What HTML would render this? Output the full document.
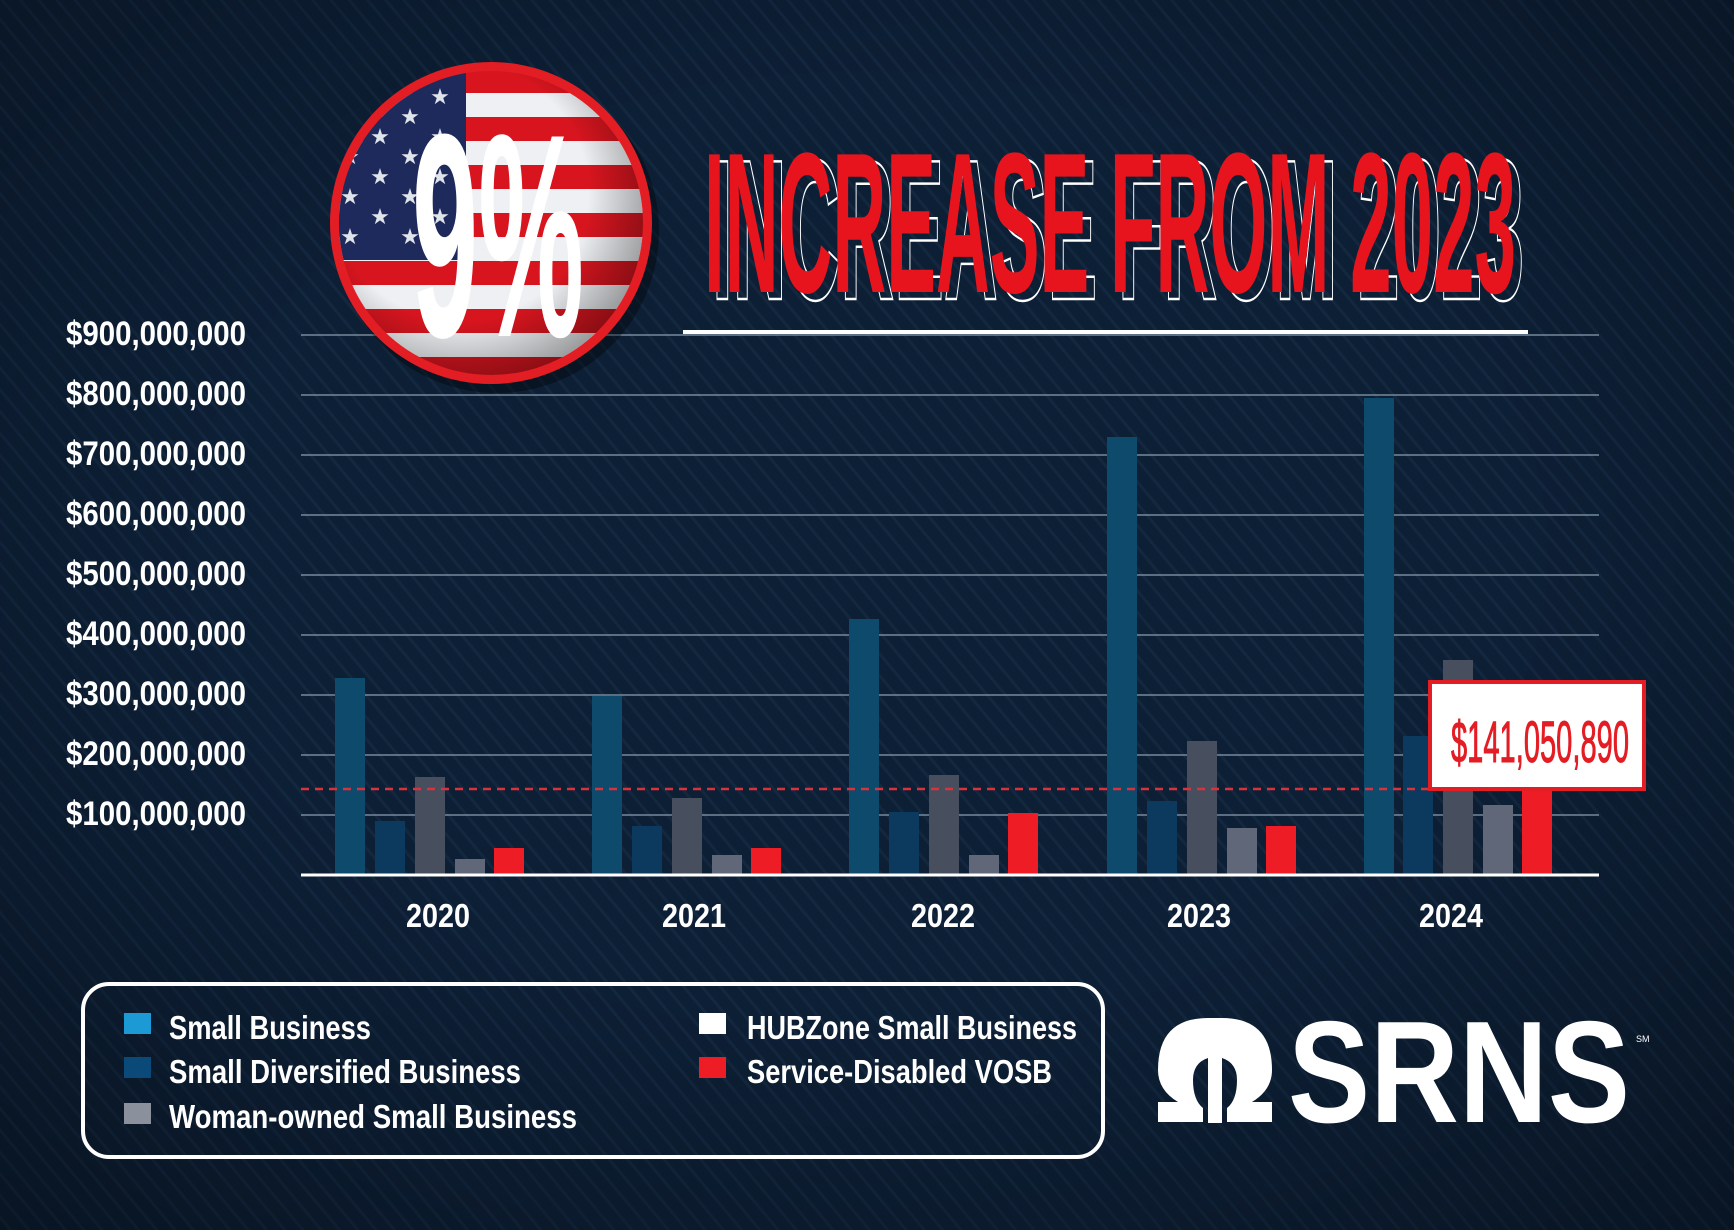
<!DOCTYPE html>
<html><head><meta charset="utf-8"><style>
html,body{margin:0;padding:0;background:#0c1c31;}
svg{display:block}
text{font-family:"Liberation Sans",sans-serif;}
</style></head><body>
<svg width="1734" height="1230" viewBox="0 0 1734 1230" xmlns="http://www.w3.org/2000/svg">
<defs>
<pattern id="st" width="14" height="14" patternUnits="userSpaceOnUse" patternTransform="rotate(-40)">
<rect width="14" height="14" fill="#0d1f35"/><rect width="3" height="14" fill="#13273f"/>
</pattern>
<radialGradient id="vg" cx="50%" cy="45%" r="75%"><stop offset="0.5" stop-color="#000" stop-opacity="0"/><stop offset="1" stop-color="#000" stop-opacity="0.35"/></radialGradient>
<clipPath id="cc"><circle cx="491" cy="223" r="152"/></clipPath>
<radialGradient id="sh" cx="40%" cy="40%" r="70%"><stop offset="0.6" stop-color="#000" stop-opacity="0"/><stop offset="1" stop-color="#000" stop-opacity="0.45"/></radialGradient>
</defs>
<rect width="1734" height="1230" fill="url(#st)"/>
<rect width="1734" height="1230" fill="url(#vg)"/>

<g stroke="#8fa3b5" stroke-width="1.5" opacity="0.8">
<line x1="301" x2="1599" y1="815" y2="815"/><line x1="301" x2="1599" y1="755" y2="755"/>
<line x1="301" x2="1599" y1="695" y2="695"/><line x1="301" x2="1599" y1="635" y2="635"/>
<line x1="301" x2="1599" y1="575" y2="575"/><line x1="301" x2="1599" y1="515" y2="515"/>
<line x1="301" x2="1599" y1="455" y2="455"/><line x1="301" x2="1599" y1="395" y2="395"/>
<line x1="301" x2="1599" y1="335" y2="335"/>
</g>
<g fill="#fff" font-weight="bold" font-size="34" text-anchor="start">
<text x="66" y="825" textLength="180" lengthAdjust="spacingAndGlyphs">$100,000,000</text>
<text x="66" y="765" textLength="180" lengthAdjust="spacingAndGlyphs">$200,000,000</text>
<text x="66" y="705" textLength="180" lengthAdjust="spacingAndGlyphs">$300,000,000</text>
<text x="66" y="645" textLength="180" lengthAdjust="spacingAndGlyphs">$400,000,000</text>
<text x="66" y="585" textLength="180" lengthAdjust="spacingAndGlyphs">$500,000,000</text>
<text x="66" y="525" textLength="180" lengthAdjust="spacingAndGlyphs">$600,000,000</text>
<text x="66" y="465" textLength="180" lengthAdjust="spacingAndGlyphs">$700,000,000</text>
<text x="66" y="405" textLength="180" lengthAdjust="spacingAndGlyphs">$800,000,000</text>
<text x="66" y="345" textLength="180" lengthAdjust="spacingAndGlyphs">$900,000,000</text>
</g>

<g>
<rect x="335" y="678" width="30" height="197" fill="#0e4a6c"/>
<rect x="375" y="821" width="30" height="54" fill="#0b3a5e"/>
<rect x="415" y="777" width="30" height="98" fill="#474f5e"/>
<rect x="455" y="859" width="30" height="16" fill="#5f6778"/>
<rect x="494" y="848" width="30" height="27" fill="#ee1c25"/>
<rect x="592" y="696" width="30" height="179" fill="#0e4a6c"/>
<rect x="632" y="826" width="30" height="49" fill="#0b3a5e"/>
<rect x="672" y="798" width="30" height="77" fill="#474f5e"/>
<rect x="712" y="855" width="30" height="20" fill="#5f6778"/>
<rect x="751" y="848" width="30" height="27" fill="#ee1c25"/>
<rect x="849" y="619" width="30" height="256" fill="#0e4a6c"/>
<rect x="889" y="812" width="30" height="63" fill="#0b3a5e"/>
<rect x="929" y="775" width="30" height="100" fill="#474f5e"/>
<rect x="969" y="855" width="30" height="20" fill="#5f6778"/>
<rect x="1008" y="813" width="30" height="62" fill="#ee1c25"/>
<rect x="1107" y="437" width="30" height="438" fill="#0e4a6c"/>
<rect x="1147" y="801" width="30" height="74" fill="#0b3a5e"/>
<rect x="1187" y="741" width="30" height="134" fill="#474f5e"/>
<rect x="1227" y="828" width="30" height="47" fill="#5f6778"/>
<rect x="1266" y="826" width="30" height="49" fill="#ee1c25"/>
<rect x="1364" y="398" width="30" height="477" fill="#0e4a6c"/>
<rect x="1403" y="736" width="30" height="139" fill="#0b3a5e"/>
<rect x="1443" y="660" width="30" height="215" fill="#474f5e"/>
<rect x="1483" y="805" width="30" height="70" fill="#5f6778"/>
<rect x="1522" y="790" width="30" height="85" fill="#ee1c25"/>
</g>
<line x1="301" x2="1599" y1="875" y2="875" stroke="#fff" stroke-width="3"/>
<line x1="301" x2="1428" y1="789" y2="789" stroke="#d8323c" stroke-width="2.5" stroke-dasharray="8,6"/>
<rect x="1430" y="682" width="214" height="107" fill="#fff" stroke="#e31d24" stroke-width="4"/>
<text x="1451" y="762" fill="#e31d24" font-size="58" stroke="#e31d24" stroke-width="1" textLength="178" lengthAdjust="spacingAndGlyphs">$141,050,890</text>

<g fill="#fff" font-weight="bold" font-size="33" text-anchor="middle">
<text x="438" y="927" textLength="64" lengthAdjust="spacingAndGlyphs">2020</text>
<text x="694" y="927" textLength="64" lengthAdjust="spacingAndGlyphs">2021</text>
<text x="943" y="927" textLength="64" lengthAdjust="spacingAndGlyphs">2022</text>
<text x="1199" y="927" textLength="64" lengthAdjust="spacingAndGlyphs">2023</text>
<text x="1451" y="927" textLength="64" lengthAdjust="spacingAndGlyphs">2024</text>
</g>

<circle cx="497" cy="231" r="162" fill="#000" opacity="0.35"/>
<circle cx="491" cy="223" r="161" fill="#e31d24"/>
<g clip-path="url(#cc)">
<rect x="330" y="60" width="330" height="330" fill="#d8151f"/>
<g fill="#eef0f3">
<rect x="330" y="93" width="330" height="24"/><rect x="330" y="141" width="330" height="24"/>
<rect x="330" y="189" width="330" height="24"/><rect x="330" y="237" width="330" height="24"/>
<rect x="330" y="285" width="330" height="24"/><rect x="330" y="333" width="330" height="24"/>
</g>
<rect x="330" y="60" width="136" height="200" fill="#1f2a5c"/>
<g fill="#dfe3ea" font-size="22" text-anchor="middle">
<text x="440" y="104">★</text><text x="410" y="124">★</text><text x="440" y="144">★</text><text x="380" y="144">★</text>
<text x="410" y="164">★</text><text x="350" y="164">★</text><text x="440" y="184">★</text><text x="380" y="184">★</text>
<text x="410" y="204">★</text><text x="350" y="204">★</text><text x="440" y="224">★</text><text x="380" y="224">★</text>
<text x="410" y="244">★</text><text x="350" y="244">★</text>
</g>
<circle cx="491" cy="223" r="152" fill="url(#sh)"/>
</g>
<text x="412" y="336" fill="#fff" font-size="290" font-weight="bold" textLength="172" lengthAdjust="spacingAndGlyphs">9%</text>

<text x="712" y="299" fill="none" stroke="#fff" stroke-width="2.5" font-size="200" font-weight="bold" textLength="812" lengthAdjust="spacingAndGlyphs">INCREASE FROM 2023</text>
<text x="704" y="292" fill="#e8141d" font-size="200" font-weight="bold" textLength="812" lengthAdjust="spacingAndGlyphs">INCREASE FROM 2023</text>
<rect x="683" y="330" width="845" height="4" fill="#fff"/>

<rect x="83" y="984" width="1020" height="173" rx="26" fill="none" stroke="#fff" stroke-width="4"/>
<rect x="124" y="1013" width="27" height="21" fill="#1b9ad6"/>
<rect x="124" y="1057" width="27" height="21" fill="#0b4a78"/>
<rect x="124" y="1103" width="27" height="21" fill="#8b919c"/>
<rect x="699" y="1013" width="27" height="21" fill="#fff"/>
<rect x="699" y="1057" width="27" height="21" fill="#ee1c25"/>
<g fill="#fff" font-weight="bold" font-size="33">
<text x="169" y="1039" textLength="202" lengthAdjust="spacingAndGlyphs">Small Business</text>
<text x="169" y="1083" textLength="352" lengthAdjust="spacingAndGlyphs">Small Diversified Business</text>
<text x="169" y="1128" textLength="408" lengthAdjust="spacingAndGlyphs">Woman-owned Small Business</text>
<text x="747" y="1039" textLength="330" lengthAdjust="spacingAndGlyphs">HUBZone Small Business</text>
<text x="747" y="1083" textLength="305" lengthAdjust="spacingAndGlyphs">Service-Disabled VOSB</text>
</g>

<g fill="#fff">
<path d="M1158 1070 q0 -52 50 -52 q0 0 0 0 v40 q-15 5 -15 22 q0 20 10 28 v14 h-45 v-20 h20 q-20 -12 -20 -32z"/>
<path d="M1272 1070 q0 -52 -50 -52 v40 q15 5 15 22 q0 20 -10 28 v14 h45 v-20 h-20 q20 -12 20 -32z"/>
<rect x="1208" y="1018" width="14" height="105"/>
</g>
<text x="1288" y="1122" fill="#fff" font-weight="bold" font-size="145" textLength="342" lengthAdjust="spacingAndGlyphs">SRNS</text>
<text x="1636" y="1042" fill="#fff" font-size="9">SM</text>
</svg>
</body></html>
